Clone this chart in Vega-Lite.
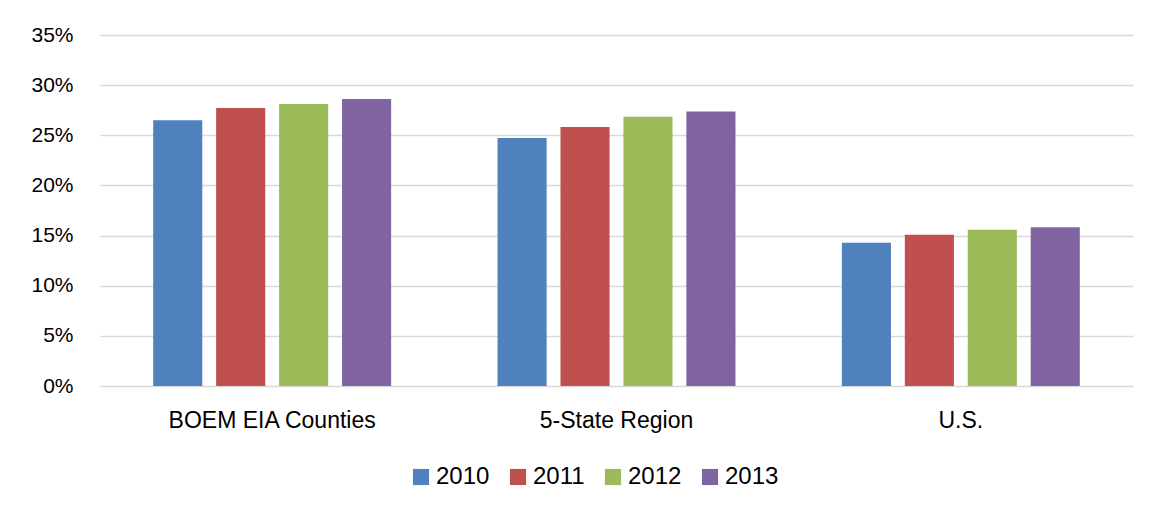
{
  "$schema": "https://vega.github.io/schema/vega-lite/v6.json",
  "width": 1033,
  "height": 351,
  "autosize": {"type": "none"},
  "padding": {"left": 100, "top": 35, "right": 16, "bottom": 128},
  "background": "white",
  "data": {
    "values": [
      {"region": "BOEM EIA Counties", "year": "2010", "value": 0.2651},
      {"region": "BOEM EIA Counties", "year": "2011", "value": 0.2771},
      {"region": "BOEM EIA Counties", "year": "2012", "value": 0.2811},
      {"region": "BOEM EIA Counties", "year": "2013", "value": 0.2861},
      {"region": "5-State Region", "year": "2010", "value": 0.2472},
      {"region": "5-State Region", "year": "2011", "value": 0.2582},
      {"region": "5-State Region", "year": "2012", "value": 0.2684},
      {"region": "5-State Region", "year": "2013", "value": 0.2737},
      {"region": "U.S.", "year": "2010", "value": 0.1429},
      {"region": "U.S.", "year": "2011", "value": 0.1509},
      {"region": "U.S.", "year": "2012", "value": 0.1559},
      {"region": "U.S.", "year": "2013", "value": 0.1582}
    ]
  },
  "mark": {"type": "bar"},
  "encoding": {
    "x": {
      "field": "region",
      "type": "nominal",
      "sort": ["BOEM EIA Counties", "5-State Region", "U.S."],
      "scale": {"paddingInner": 0.309, "paddingOuter": 0.1545},
      "axis": {
        "title": null,
        "labelAngle": 0,
        "ticks": false,
        "domain": false,
        "labelFontSize": 23,
        "labelLimit": 0,
        "labelFont": "Liberation Sans",
        "labelColor": "#000000",
        "labelPadding": 23
      }
    },
    "xOffset": {
      "field": "year",
      "type": "nominal",
      "scale": {"paddingInner": 0.22, "paddingOuter": 0}
    },
    "y": {
      "field": "value",
      "type": "quantitative",
      "scale": {"domain": [0, 0.35]},
      "axis": {
        "title": null,
        "format": ".0%",
        "values": [0, 0.05, 0.1, 0.15, 0.2, 0.25, 0.3, 0.35],
        "ticks": false,
        "domain": false,
        "grid": true,
        "gridColor": "#d9d9d9",
        "gridWidth": 1.5,
        "labelFontSize": 21,
        "labelFont": "Liberation Sans",
        "labelColor": "#000000",
        "labelPadding": 27
      }
    },
    "color": {
      "field": "year",
      "type": "nominal",
      "scale": {"range": ["#4F81BD", "#C0504D", "#9BBB59", "#8064A2"]},
      "legend": {
        "orient": "none",
        "legendX": 309,
        "legendY": 430,
        "direction": "horizontal",
        "title": null,
        "symbolType": "square",
        "symbolSize": 260,
        "symbolStrokeWidth": 0,
        "labelFontSize": 24,
        "labelFont": "Liberation Sans",
        "labelColor": "#000000",
        "labelOffset": 3,
        "columnPadding": 16
      }
    }
  },
  "config": {
    "view": {"stroke": null}
  }
}
